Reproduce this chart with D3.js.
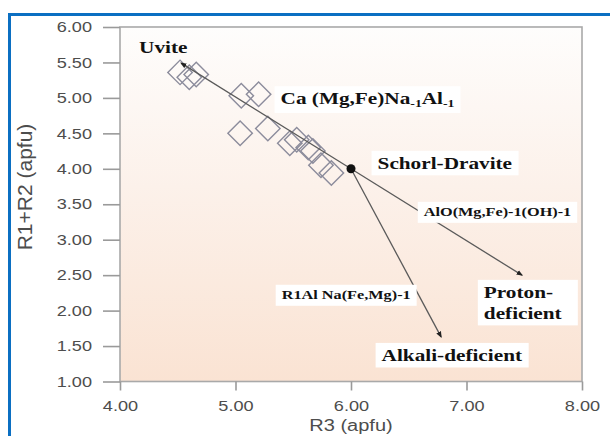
<!DOCTYPE html>
<html>
<head>
<meta charset="utf-8">
<script src="https://cdn.jsdelivr.net/npm/d3@7"></script>
<style>
  body { margin: 0; background: #fff; }
  svg { display: block; }
</style>
</head>
<body>
<div id="chart"></div>
<script>
      var w = 610;
      var h = 436;
      var sx = 1.25 // the source image is stretched sideways, text follows it

      // tourmaline analyses, R3 vs R1+R2 (apfu)
      var r3  = [4.52, 4.60, 4.66, 5.05, 5.20, 5.04, 5.28, 5.47, 5.53, 5.63, 5.67, 5.74, 5.83];
      var r12 = [5.36, 5.29, 5.33, 5.03, 5.05, 4.50, 4.57, 4.36, 4.41, 4.30, 4.25, 4.05, 3.94];

      // end members
      var endNames = ['Uvite', 'Schorl-Dravite', 'Proton-deficient', 'Alkali-deficient'];
      var endX = [4.53, 6.00, 7.48, 6.78];
      var endY = [5.49, 4.00, 2.50, 1.63];

      // exchange vectors start at Schorl-Dravite (index 1)
      var vecTo = [0, 2, 3];

      var xTicks = [4, 5, 6, 7, 8];
      var yTicks = [1, 1.5, 2, 2.5, 3, 3.5, 4, 4.5, 5, 5.5, 6];

      // annotation text, anchored in data units (left end of baseline)
      var noteText = ['Uvite', 'Ca (Mg,Fe)Na|-1|Al|-1', 'Schorl-Dravite', 'AlO(Mg,Fe)-1(OH)-1',
                      'R1Al Na(Fe,Mg)-1', 'Proton-', 'deficient', 'Alkali-deficient'];
      var noteX = [4.165, 5.39, 6.23, 6.63, 5.40, 7.15, 7.15, 6.265];
      var noteY = [5.63, 4.91, 4.00, 3.33, 2.16, 2.18, 1.885, 1.29];
      var noteSize = [17, 17, 17, 13, 13, 17, 17, 17];
      var noteBox = [false, true, true, true, true, true, false, true];

      var xScale = d3.scaleLinear().domain([4, 8]).range([120, 582]);
      var yScale = d3.scaleLinear().domain([1, 6]).range([381.5, 27]);

      var svg = d3.select("#chart")
            .append("svg")
            .attr("width", w)
            .attr("height", h);

      var defs = svg.append("defs");
      var grad = defs.append("linearGradient")
            .attr("id", "bg")
            .attr("x1", 0).attr("y1", 0).attr("x2", 0).attr("y2", 1);
      grad.append("stop").attr("offset", "0%").attr("stop-color", "#fefdfc");
      grad.append("stop").attr("offset", "45%").attr("stop-color", "#fcf1ea");
      grad.append("stop").attr("offset", "100%").attr("stop-color", "#fae3d3");

      defs.append("marker")
            .attr("id", "head")
            .attr("viewBox", "0 0 10 10")
            .attr("refX", 8).attr("refY", 5)
            .attr("markerWidth", 5).attr("markerHeight", 5)
            .attr("orient", "auto")
          .append("path")
            .attr("d", "M0,1 L10,5 L0,9 Z")
            .attr("fill", "#222");

      // blue frame around the figure
      svg.append("line").attr("x1", 8).attr("x2", w).attr("y1", 14.5).attr("y2", 14.5)
         .attr("stroke", "#0b6fc2").attr("stroke-width", 3);
      svg.append("line").attr("x1", 9.5).attr("x2", 9.5).attr("y1", 13).attr("y2", h)
         .attr("stroke", "#0b6fc2").attr("stroke-width", 3);

      //plot area
      svg.append("rect")
         .attr("x", xScale(4)).attr("y", yScale(6))
         .attr("width", xScale(8) - xScale(4))
         .attr("height", yScale(1) - yScale(6))
         .attr("fill", "url(#bg)")
         .attr("stroke", "#a9a9a9")
         .attr("stroke-width", 1.6);

      //axes
      var xAxis = d3.axisBottom(xScale)
                    .tickValues(xTicks)
                    .tickSize(9)
                    .tickPadding(10)
                    .tickFormat(d3.format(".2f"));
      var yAxis = d3.axisLeft(yScale)
                    .tickValues(yTicks)
                    .tickSize(17)
                    .tickPadding(11)
                    .tickFormat(d3.format(".2f"));

      var gx = svg.append("g")
         .attr("transform", "translate(0," + yScale(1) + ")")
         .call(xAxis);
      var gy = svg.append("g")
         .attr("transform", "translate(" + xScale(4) + ",0)")
         .call(yAxis);

      [gx, gy].forEach(function(g) {
        g.select(".domain").remove();
        g.selectAll(".tick line").attr("stroke", "#9a9a9a").attr("stroke-width", 1.6);
        g.selectAll(".tick text")
         .attr("fill", "#4d4d4d")
         .style("font-family", "'Liberation Sans', Arial, sans-serif")
         .style("font-size", "14.5px");
      });
      gx.selectAll(".tick text").attr("transform", "scale(" + sx + ",1)");
      gy.selectAll(".tick text").attr("x", -28 / sx).attr("transform", "scale(" + sx + ",1)");

      svg.append("text")
         .attr("transform", "translate(" + 351 + ",431) scale(" + sx + ",1)")
         .attr("text-anchor", "middle")
         .attr("fill", "#4d4d4d")
         .style("font-family", "'Liberation Sans', Arial, sans-serif")
         .style("font-size", "16px")
         .text("R3 (apfu)");

      svg.append("text")
         .attr("transform", "translate(32,187) rotate(-90)")
         .attr("text-anchor", "middle")
         .attr("fill", "#4d4d4d")
         .style("font-family", "'Liberation Sans', Arial, sans-serif")
         .style("font-size", "21px")
         .text("R1+R2 (apfu)");

      //data points
      var pts = r3.map(function(d, i) { return [d, r12[i]]; });
      svg.selectAll("path.pt")
         .data(pts)
         .enter()
         .append("path")
         .attr("class", "pt")
         .attr("d", d3.symbol().type(d3.symbolSquare).size(300))
         .attr("transform", function(d) {
            return "translate(" + xScale(d[0]) + "," + yScale(d[1]) + ") rotate(45)";
         })
         .attr("fill", "none")
         .attr("stroke", "#8c8c9c")
         .attr("stroke-width", 1.4);

      //exchange vectors
      svg.selectAll("line.vec")
         .data(vecTo)
         .enter()
         .append("line")
         .attr("class", "vec")
         .attr("x1", xScale(endX[1]))
         .attr("y1", yScale(endY[1]))
         .attr("x2", function(d) { return xScale(endX[d]); })
         .attr("y2", function(d) { return yScale(endY[d]); })
         .attr("stroke", "#5a5a5a")
         .attr("stroke-width", 1.3)
         .attr("marker-end", "url(#head)");

      svg.append("circle")
         .attr("cx", xScale(endX[1]))
         .attr("cy", yScale(endY[1]))
         .attr("r", 4.5)
         .attr("fill", "#111");

      //labels
      var notes = svg.selectAll("g.note")
         .data(noteText)
         .enter()
         .append("g")
         .attr("class", "note");

      notes.each(function(d, i) {
        var g = d3.select(this);
        var box = g.append("rect").attr("fill", "#fff");
        var t = g.append("text")
           .attr("transform", "translate(" + xScale(noteX[i]) + "," + yScale(noteY[i]) + ") scale(" + sx + ",1)")
           .attr("fill", "#111")
           .style("font-family", "'Liberation Serif', 'Times New Roman', serif")
           .style("font-weight", "bold")
           .style("font-size", noteSize[i] + "px");
        var parts = d.split("|");
        parts.forEach(function(p, k) {
          var sp = t.append("tspan").text(p);
          if (k % 2 == 1) sp.style("font-size", "11px").attr("dy", 3);
          else if (k > 0) sp.attr("dy", -3);
        });
        if (noteBox[i]) {
          var bb = t.node().getBBox();
          var px = 6;
          var extra = (i == 5) ? 21 : 0;   // "Proton-" box also covers its second line
          box.attr("x", xScale(noteX[i]) + bb.x * sx - px)
             .attr("y", yScale(noteY[i]) + bb.y - 3)
             .attr("width", (i == 5 ? 88 : bb.width * sx) + 2 * px)
             .attr("height", bb.height + 6 + extra);
        } else {
          box.remove();
        }
      });
</script>
</body>
</html>
